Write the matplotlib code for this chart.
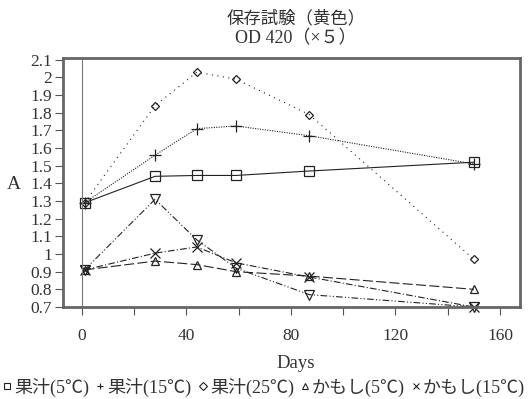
import matplotlib
matplotlib.use("Agg")
import matplotlib.pyplot as plt
from matplotlib.lines import Line2D

plt.rcParams['font.family'] = ['Liberation Serif', 'Noto Sans CJK JP', 'DejaVu Sans']

# Data
days = [1, 28, 44, 59, 87, 150]
juice_5 = [1.29, 1.44, 1.445, 1.445, 1.47, 1.52]
juice_15 = [1.29, 1.56, 1.71, 1.725, 1.67, 1.51]
juice_25 = [1.29, 1.84, 2.03, 1.99, 1.79, 0.97]
kamoshi_5 = [0.91, 0.96, 0.94, 0.90, 0.875, 0.80]
kamoshi_15 = [0.91, 1.005, 1.04, 0.95, 0.87, 0.70]
kamoshi_25 = [0.91, 1.31, 1.08, 0.92, 0.77, 0.70]

labels = ["果汁(5℃)", "果汁(15℃)", "果汁(25℃)", "かもし(5℃)", "かもし(15℃)", "かもし(25℃)"]
series = [juice_5, juice_15, juice_25, kamoshi_5, kamoshi_15, kamoshi_25]
markers = ["s", "+", "D", "^", "x", "v"]
msizes = [6.5, 8, 4.5, 6, 7, 7]
styles = ["-", (0, (1, 1.2)), (0, (1, 4)), (0, (9, 3)), (0, (6, 2, 1, 2)), (0, (6, 2, 1, 2, 1, 2))]
ink = "#222222"

fig = plt.figure(figsize=(5.28, 3.99), dpi=100)
ax = fig.add_axes([0.119, 0.2306, 0.866, 0.624])

for vals, mk, ms, ls in zip(series, markers, msizes, styles):
    ax.plot(days, vals, linestyle=ls, color=ink, linewidth=0.8, marker=mk,
            markersize=ms, markerfacecolor="none", markeredgecolor=ink,
            markeredgewidth=0.9, clip_on=False)

ax.axvline(0, color="#777777", linewidth=0.8)

ax.set_xlim(-7.3, 167.7)
ax.set_ylim(0.7, 2.11)
ax.set_xticks(range(0, 161, 20))
ax.set_xticklabels([str(v) if v % 40 == 0 else "" for v in range(0, 161, 20)])
yt = [round(0.7 + 0.1 * i, 1) for i in range(15)]
ax.set_yticks(yt)
ax.set_yticklabels([f"{v:g}" for v in yt])
ax.tick_params(axis="both", direction="out", length=6, width=0.8, color="#555555",
               labelsize=12.5, labelcolor="#333333")
ax.tick_params(axis="x", pad=9)
ax.tick_params(axis="y", pad=2)
for sp in ax.spines.values():
    sp.set_linewidth(2.0)
    sp.set_color("#666666")

fig.text(0.56, 0.953, "保存試験（黄色）", ha="center", va="center", fontsize=12.5,
         family=["Noto Sans CJK JP"], color="#333333")
fig.text(0.56, 0.903, "OD 420（×５）", ha="center", va="center", fontsize=13,
         family=["Liberation Serif", "Noto Sans CJK JP"], color="#333333")
fig.text(0.027, 0.537, "A", ha="center", va="center", fontsize=14, color="#333333")
fig.text(0.56, 0.088, "Days", ha="center", va="center", fontsize=13.5, color="#333333")

handles = [Line2D([], [], linestyle="none", marker=mk, markersize=4, markerfacecolor="none",
                  markeredgecolor=ink, markeredgewidth=0.8)
           for mk in markers[:5]]
fig.legend(handles, labels[:5], loc="center", bbox_to_anchor=(0.5, 0.03), ncol=5,
           frameon=False, handlelength=0.5, handletextpad=0.15, columnspacing=0.35,
           borderpad=0, prop={"family": ["Liberation Serif", "Noto Sans CJK JP"], "size": 13},
           labelcolor="#333333")

fig.savefig("out.png", dpi=100)
